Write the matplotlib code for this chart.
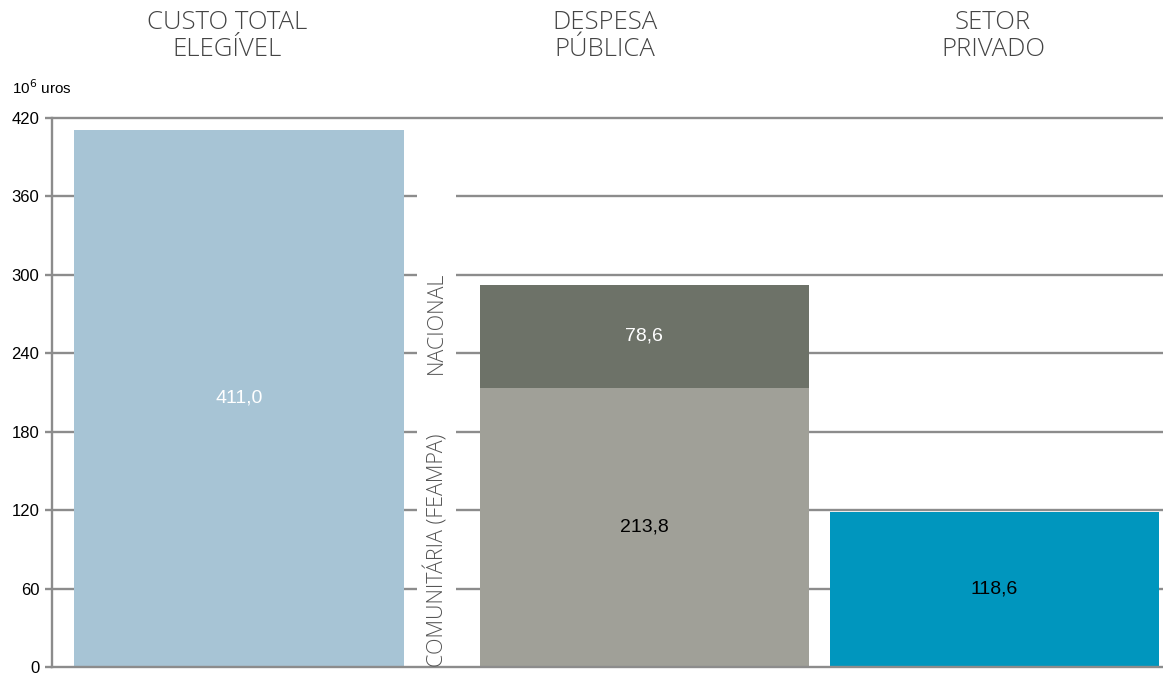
import matplotlib
matplotlib.use("Agg")
import matplotlib.pyplot as plt
from matplotlib import font_manager

# data (10^6 euros)
titles = ["CUSTO TOTAL\nELEGÍVEL", "DESPESA\nPÚBLICA", "SETOR\nPRIVADO"]
custo_total = [411.0]
comunitaria = [213.8]
nacional = [78.6]
privado = [118.6]
yticks = [0, 60, 120, 180, 240, 300, 360, 420]
stack_names = ["COMUNITÁRIA (FEAMPA)", "NACIONAL"]


def fmt(v):
    return f"{v:.1f}".replace(".", ",")


# pick a light sans for the headings if one is around
light_family = "Roboto"
for fam in ["Roboto", "Lato", "Open Sans", "Inter"]:
    try:
        f = font_manager.findfont(font_manager.FontProperties(family=fam, weight="light"),
                                  fallback_to_default=False)
        if "light" in f.lower():
            light_family = fam
            break
    except Exception:
        pass

plt.rcParams["font.family"] = ["Liberation Sans", "DejaVu Sans"]

GRID = "#8c8c8c"
fig = plt.figure(figsize=(11.63, 6.75), dpi=100)
ax = fig.add_axes([52 / 1163, 8 / 675, 1111 / 1163, 549 / 675])

# bar centres (in bar-width units) and the gap used by the rotated labels
pos = [0.567, 1.798, 2.860]
gap = (1.108, 1.226)
xmax = 3.372

ax.set_xlim(0, xmax)
ax.set_ylim(0, 420)

# gridlines, broken where the vertical labels sit
for y in yticks[1:-1]:
    ax.hlines(y, 0, gap[0], color=GRID, lw=1.7, zorder=1)
    ax.hlines(y, gap[1], xmax, color=GRID, lw=1.7, zorder=1)
ax.hlines(420, 0, xmax, color=GRID, lw=1.7, zorder=1, clip_on=False)

ax.bar(pos[0], custo_total, width=1.0, color="#a7c4d5", zorder=2)
ax.bar(pos[1], comunitaria, width=1.0, color="#a0a098", zorder=2)
ax.bar(pos[1], nacional, bottom=comunitaria, width=1.0, color="#6d7268", zorder=2)
ax.bar(pos[2], privado, width=1.0, color="#0096be", zorder=2)

# value labels
ax.text(pos[0], custo_total[0] / 2, fmt(custo_total[0]), ha="center", va="center",
        color="white", fontsize=14)
ax.text(pos[1], comunitaria[0] / 2, fmt(comunitaria[0]), ha="center", va="center",
        color="black", fontsize=14)
ax.text(pos[1], comunitaria[0] + nacional[0] / 2, fmt(nacional[0]), ha="center",
        va="center", color="white", fontsize=14)
ax.text(pos[2], privado[0] / 2, fmt(privado[0]), ha="center", va="center",
        color="black", fontsize=14)

# rotated stack labels
lx = sum(gap) / 2
ax.text(lx, 0, stack_names[0], rotation=90, ha="center", va="bottom",
        fontsize=15.5, color="#555555", family=light_family, fontweight="light")
ax.text(lx, comunitaria[0] + 10, stack_names[1], rotation=90, ha="center", va="bottom",
        fontsize=15.5, color="#555555", family=light_family, fontweight="light")

# axes styling
for s in ["top", "right"]:
    ax.spines[s].set_visible(False)
for s in ["left", "bottom"]:
    ax.spines[s].set_color(GRID)
    ax.spines[s].set_linewidth(1.7)
ax.set_xticks([])
ax.set_yticks(yticks)
ax.tick_params(axis="y", length=5, width=1.7, color=GRID, labelsize=12, pad=4)

# headings above the columns
for x, t in zip([227, 605, 993], titles):
    fig.text(x / 1163, 1 - 36 / 675, t, ha="center", va="center", fontsize=18.5,
             color="#444444", family=light_family, fontweight="light", linespacing=1.15)

fig.text(12 / 1163, 1 - 88 / 675, "10$^6$ uros", ha="left", va="center", fontsize=11)

fig.savefig("out.png", dpi=100)
